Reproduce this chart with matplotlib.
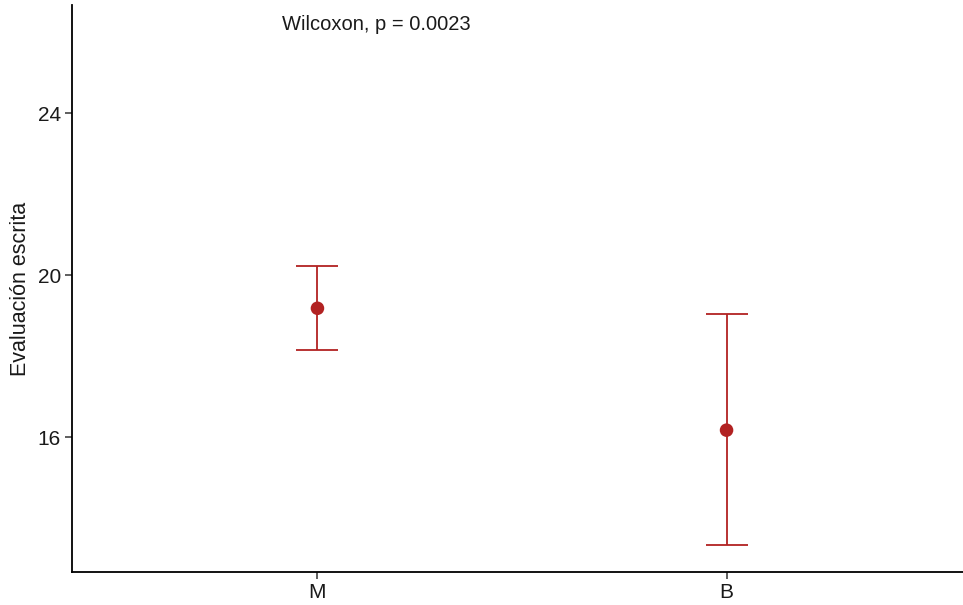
import numpy as np
import matplotlib.pyplot as plt

# datos
grupos = ["M", "B"]
medias = [19.18, 16.17]
sup = [20.22, 19.04]
inf = [18.15, 13.33]
texto_p = "Wilcoxon, p = 0.0023"

plt.rcParams['font.family'] = ['Liberation Sans', 'DejaVu Sans']

fig = plt.figure(figsize=(9.63, 6.05), dpi=100)
ax = fig.add_axes([72 / 963, 33 / 605, 900 / 963, 567 / 605])

x = np.arange(1, len(grupos) + 1)
col = '#B22222'
err = [np.array(medias) - np.array(inf), np.array(sup) - np.array(medias)]
ax.errorbar(x, medias, yerr=err, fmt='none', ecolor=col, elinewidth=1.3,
            capsize=14.8, capthick=1.3)
ax.scatter(x, medias, s=95, color=col, zorder=3, edgecolors='none')

ax.set_xlim(0.4, 2.6)
ax.set_ylim(12.667, 26.67)
ax.set_xticks(x)
ax.set_xticklabels(grupos)
ax.set_yticks([16, 20, 24])
ax.tick_params(axis='both', labelsize=15, length=5, width=1.1, color='#333333',
               labelcolor='#1a1a1a', direction='out', pad=3)
ax.set_ylabel("Evaluación escrita", fontsize=15.5, color='#1a1a1a', labelpad=5)

for s in ['top', 'right']:
    ax.spines[s].set_visible(False)
for s in ['left', 'bottom']:
    ax.spines[s].set_linewidth(1.3)
    ax.spines[s].set_color('black')

fig.text(282 / 963, 1 - 25 / 605, texto_p, fontsize=14.5, color='#1a1a1a',
         ha='left', va='center')

fig.savefig("out.png", dpi=100)
